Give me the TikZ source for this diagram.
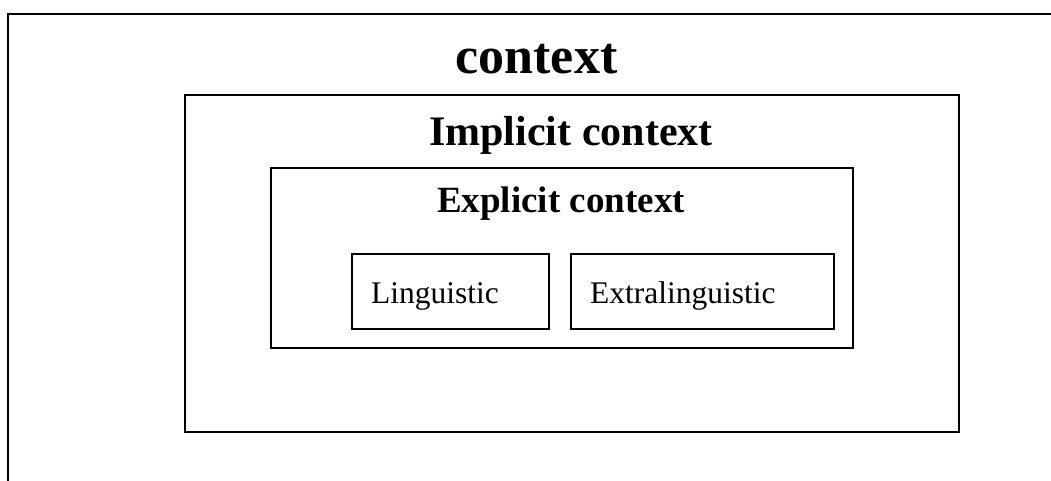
\documentclass[tikz,border=0pt]{standalone}
\usepackage{fontspec}
\setmainfont{Liberation Serif}
\tikzset{
  frame/.style={draw=black, line width=2pt, inner sep=0pt, anchor=north west},
  ttl/.style={inner sep=0pt, anchor=base, font=\bfseries},
  lbl/.style={inner sep=0pt, anchor=base west, font=\fontsize{31.5}{36}\selectfont},
}
\begin{document}
\begin{tikzpicture}[x=1pt,y=-1pt]
\useasboundingbox (0,0) rectangle (1051,480);
\clip (0,0) rectangle (1051,480);
% outer context box (continues beyond the picture)
\node[frame, minimum width=1080pt, minimum height=500pt] (outer) at (7,13) {};
\node[ttl, font=\bfseries\fontsize{52}{60}\selectfont] (tcontext) at (536.5,73) {context};
% implicit
\node[frame, minimum width=774pt, minimum height=337pt] (implicit) at (184,93.5) {};
\node[ttl, font=\bfseries\fontsize{42}{50}\selectfont] (timplicit) at (571,145) {Implicit context};
% explicit
\node[frame, minimum width=582pt, minimum height=180pt] (explicit) at (270,167) {};
\node[ttl, font=\bfseries\fontsize{37}{44}\selectfont] (texplicit) at (561,212) {Explicit context};
% inner boxes
\node[frame, minimum width=197pt, minimum height=75pt] (ling) at (350.5,253) {};
\node[lbl] (tling) at (371,303) {Linguistic};
\node[frame, minimum width=263pt, minimum height=75pt] (extra) at (570,253) {};
\node[lbl] (textra) at (590,303) {Extralinguistic};
\end{tikzpicture}
\end{document}
